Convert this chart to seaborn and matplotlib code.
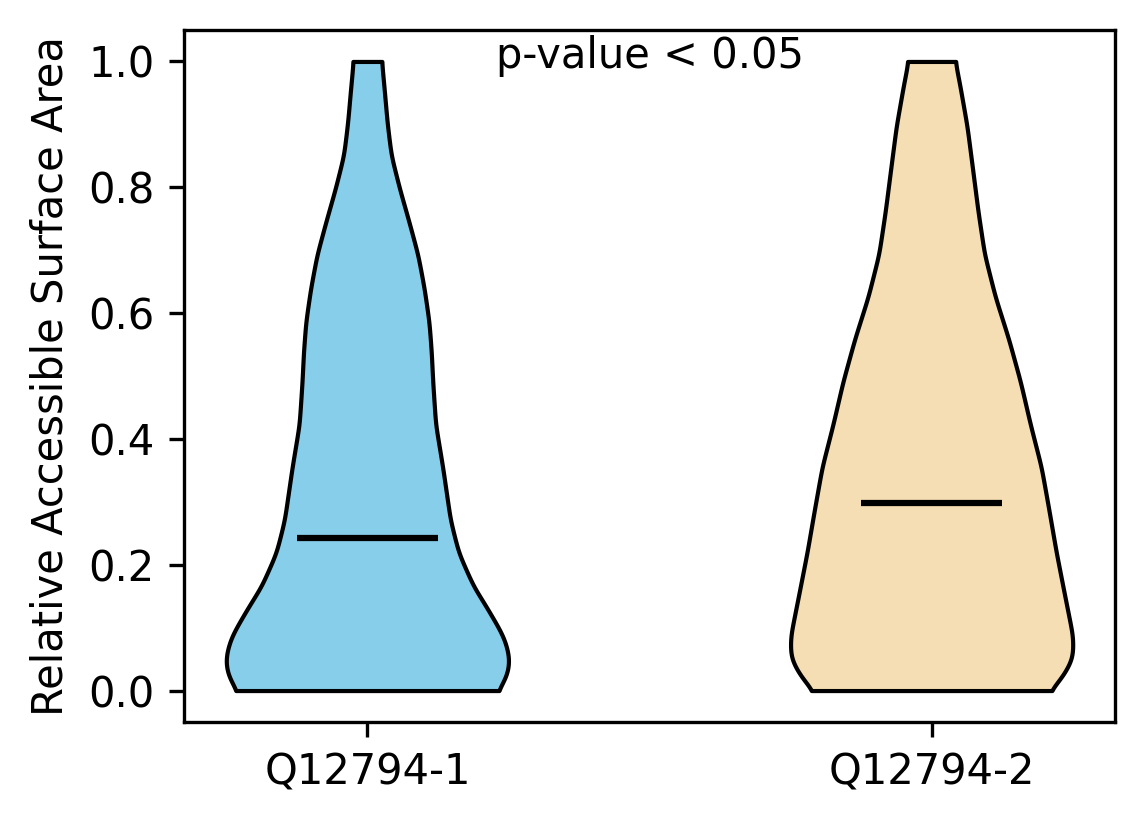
import numpy as np
import matplotlib
matplotlib.use("Agg")
import matplotlib.pyplot as plt
import seaborn as sns

# Data
groups = ["Q12794-1", "Q12794-2"]
colors = ["skyblue", "wheat"]
medians = [0.242, 0.298]

# density profile of each violin (relative half-width at each RSA level)
levels_1 = [0.0, 0.007, 0.022, 0.044, 0.060, 0.086, 0.113, 0.140, 0.165, 0.219,
            0.271, 0.355, 0.423, 0.491, 0.538, 0.586, 0.639, 0.692, 0.744,
            0.798, 0.851, 0.903, 0.957, 1.0]
width_1 = [0.91, 0.94, 0.98, 1.0, 0.993, 0.958, 0.89, 0.819, 0.748, 0.642,
           0.584, 0.53, 0.48, 0.46, 0.45, 0.434, 0.40, 0.356, 0.294,
           0.226, 0.167, 0.139, 0.118, 0.1]

levels_2 = [0.0, 0.017, 0.051, 0.085, 0.152, 0.220, 0.288, 0.355, 0.423,
            0.491, 0.559, 0.626, 0.694, 0.762, 0.829, 0.897, 0.965, 1.0]
width_2 = [0.824, 0.906, 0.992, 0.994, 0.935, 0.876, 0.824, 0.771, 0.694,
           0.624, 0.541, 0.447, 0.371, 0.326, 0.288, 0.249, 0.196, 0.165]

profiles = [(levels_1, width_1), (levels_2, width_2)]

sns.set_theme(style="ticks", rc={
    "axes.edgecolor": "black", "axes.linewidth": 0.8,
    "xtick.color": "black", "ytick.color": "black",
    "xtick.major.size": 3.5, "ytick.major.size": 3.5,
    "xtick.major.width": 0.8, "ytick.major.width": 0.8,
    "text.color": "black", "axes.labelcolor": "black",
    "font.size": 10, "axes.labelsize": 10,
    "xtick.labelsize": 10, "ytick.labelsize": 10,
})
plt.rcParams["font.family"] = ["DejaVu Sans"]


def smooth_outline(y, w, sigma=0.012):
    # fine grid + light gaussian blur, only to round off the outline
    yy = np.linspace(y[0], y[-1], 1001)
    ww = np.interp(yy, y, w)
    step = yy[1] - yy[0]
    k = np.arange(-4 * sigma, 4 * sigma + step, step)
    kern = np.exp(-0.5 * (k / sigma) ** 2)
    kern /= kern.sum()
    pad = len(k) // 2
    padded = np.pad(ww, pad, mode="edge")
    ww = np.convolve(padded, kern, mode="same")[pad:-pad]
    return yy, ww


fig = plt.figure(figsize=(1144 / 300, 824 / 300), dpi=300)
ax = fig.add_axes([184 / 1144, 1 - 722 / 824, (1115 - 184) / 1144, (722 - 30) / 824])

positions = [1, 2]
half = 0.25  # widths=0.5
for pos, (lv, wd), col, med in zip(positions, profiles, colors, medians):
    yy, ww = smooth_outline(lv, wd)
    ww = ww / ww.max() * half
    ax.fill_betweenx(yy, pos - ww, pos + ww, facecolor=col, edgecolor="black",
                     linewidth=1.0, alpha=1)
    ax.hlines(med, pos - half / 2, pos + half / 2, color="black", linewidth=1.5)

ax.set_xlim(0.675, 2.325)
ax.set_ylim(-0.05, 1.05)
ax.set_xticks(positions)
ax.set_xticklabels(groups)
ax.set_yticks([0.0, 0.2, 0.4, 0.6, 0.8, 1.0])
ax.set_ylabel("Relative Accessible Surface Area")
ax.text(0.5, 0.993, "p-value < 0.05", transform=ax.transAxes,
        ha="center", va="top", fontsize=10)

fig.savefig("out.png", dpi=300)
